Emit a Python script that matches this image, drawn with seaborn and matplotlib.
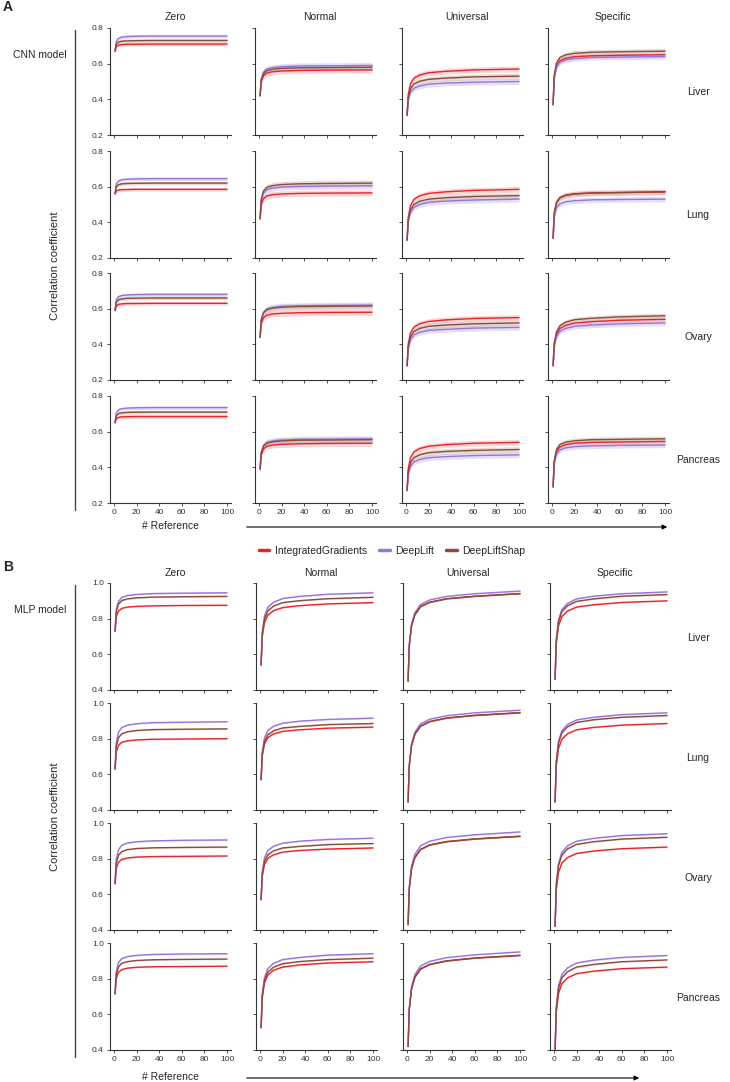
import pandas as pd
import seaborn as sns
import matplotlib.pyplot as plt
from matplotlib.lines import Line2D
from matplotlib.patches import FancyArrowPatch

# number of references sampled on the x axis
N_REF = [1, 2, 4, 7, 12, 20, 35, 60, 100]
BASELINES = ["Zero", "Normal", "Universal", "Specific"]
TISSUES = ["Liver", "Lung", "Ovary", "Pancreas"]
METHODS = ["IntegratedGradients", "DeepLift", "DeepLiftShap"]

# CNN model: one list per baseline (Zero, Normal, Universal, Specific)
CNN_LIVER_IG = [
    [0.670, 0.696, 0.704, 0.707, 0.709, 0.709, 0.710, 0.710, 0.710],
    [0.420, 0.500, 0.533, 0.548, 0.555, 0.559, 0.562, 0.564, 0.565],
    [0.310, 0.427, 0.487, 0.518, 0.536, 0.549, 0.557, 0.565, 0.570],
    [0.370, 0.524, 0.588, 0.616, 0.630, 0.639, 0.644, 0.647, 0.650],
]
CNN_LIVER_DL = [
    [0.670, 0.725, 0.742, 0.749, 0.752, 0.754, 0.755, 0.755, 0.755],
    [0.420, 0.514, 0.553, 0.570, 0.578, 0.583, 0.587, 0.588, 0.590],
    [0.310, 0.396, 0.439, 0.462, 0.475, 0.485, 0.491, 0.496, 0.500],
    [0.370, 0.519, 0.581, 0.608, 0.621, 0.629, 0.635, 0.637, 0.640],
]
CNN_LIVER_DLS = [
    [0.670, 0.709, 0.721, 0.726, 0.728, 0.729, 0.730, 0.730, 0.730],
    [0.420, 0.508, 0.545, 0.561, 0.569, 0.574, 0.577, 0.578, 0.580],
    [0.310, 0.409, 0.460, 0.486, 0.501, 0.512, 0.519, 0.526, 0.530],
    [0.370, 0.535, 0.604, 0.634, 0.649, 0.658, 0.664, 0.667, 0.670],
]
CNN_LUNG_IG = [
    [0.560, 0.576, 0.581, 0.583, 0.584, 0.585, 0.585, 0.585, 0.585],
    [0.420, 0.500, 0.533, 0.548, 0.555, 0.559, 0.562, 0.564, 0.565],
    [0.300, 0.428, 0.494, 0.528, 0.548, 0.562, 0.571, 0.579, 0.585],
    [0.310, 0.453, 0.513, 0.539, 0.552, 0.560, 0.565, 0.567, 0.570],
]
CNN_LUNG_DL = [
    [0.560, 0.615, 0.632, 0.639, 0.642, 0.644, 0.645, 0.645, 0.645],
    [0.420, 0.522, 0.564, 0.583, 0.592, 0.598, 0.601, 0.603, 0.605],
    [0.300, 0.404, 0.456, 0.484, 0.500, 0.512, 0.519, 0.525, 0.530],
    [0.310, 0.431, 0.482, 0.504, 0.515, 0.521, 0.526, 0.528, 0.530],
]
CNN_LUNG_DLS = [
    [0.560, 0.599, 0.611, 0.616, 0.618, 0.619, 0.620, 0.620, 0.620],
    [0.420, 0.530, 0.576, 0.596, 0.606, 0.612, 0.616, 0.618, 0.620],
    [0.300, 0.413, 0.470, 0.500, 0.518, 0.530, 0.538, 0.545, 0.550],
    [0.310, 0.450, 0.510, 0.537, 0.551, 0.559, 0.564, 0.567, 0.572],
]
CNN_OVARY_IG = [
    [0.590, 0.616, 0.624, 0.627, 0.629, 0.629, 0.630, 0.630, 0.630],
    [0.440, 0.517, 0.549, 0.563, 0.570, 0.574, 0.577, 0.579, 0.580],
    [0.280, 0.402, 0.464, 0.496, 0.515, 0.528, 0.537, 0.545, 0.550],
    [0.280, 0.397, 0.457, 0.488, 0.506, 0.519, 0.527, 0.535, 0.540],
]
CNN_OVARY_DL = [
    [0.590, 0.649, 0.667, 0.674, 0.677, 0.679, 0.680, 0.680, 0.680],
    [0.440, 0.539, 0.580, 0.598, 0.607, 0.613, 0.616, 0.618, 0.620],
    [0.280, 0.377, 0.426, 0.452, 0.467, 0.478, 0.484, 0.491, 0.495],
    [0.280, 0.388, 0.443, 0.472, 0.489, 0.501, 0.508, 0.515, 0.520],
]
CNN_OVARY_DLS = [
    [0.590, 0.636, 0.650, 0.655, 0.658, 0.659, 0.660, 0.660, 0.660],
    [0.440, 0.536, 0.577, 0.594, 0.603, 0.608, 0.612, 0.613, 0.615],
    [0.280, 0.388, 0.443, 0.472, 0.489, 0.501, 0.508, 0.515, 0.520],
    [0.280, 0.406, 0.470, 0.504, 0.524, 0.538, 0.546, 0.554, 0.560],
]
CNN_PANCREAS_IG = [
    [0.650, 0.673, 0.680, 0.683, 0.684, 0.685, 0.685, 0.685, 0.685],
    [0.390, 0.470, 0.503, 0.518, 0.525, 0.529, 0.532, 0.534, 0.535],
    [0.270, 0.392, 0.454, 0.486, 0.505, 0.518, 0.527, 0.535, 0.540],
    [0.290, 0.430, 0.489, 0.514, 0.527, 0.535, 0.540, 0.542, 0.545],
]
CNN_PANCREAS_DL = [
    [0.650, 0.705, 0.722, 0.729, 0.732, 0.734, 0.735, 0.735, 0.735],
    [0.390, 0.484, 0.523, 0.540, 0.548, 0.553, 0.557, 0.558, 0.560],
    [0.270, 0.360, 0.406, 0.430, 0.444, 0.454, 0.460, 0.466, 0.470],
    [0.290, 0.419, 0.473, 0.497, 0.509, 0.516, 0.520, 0.523, 0.525],
]
CNN_PANCREAS_DLS = [
    [0.650, 0.689, 0.701, 0.706, 0.708, 0.709, 0.710, 0.710, 0.710],
    [0.390, 0.481, 0.519, 0.535, 0.543, 0.548, 0.552, 0.553, 0.555],
    [0.270, 0.374, 0.426, 0.454, 0.470, 0.482, 0.489, 0.495, 0.500],
    [0.290, 0.439, 0.501, 0.528, 0.541, 0.549, 0.555, 0.557, 0.560],
]

# MLP model
MLP_LIVER_IG = [
    [0.730, 0.810, 0.843, 0.858, 0.865, 0.869, 0.872, 0.874, 0.875],
    [0.540, 0.698, 0.778, 0.820, 0.845, 0.862, 0.873, 0.883, 0.890],
    [0.450, 0.646, 0.759, 0.822, 0.867, 0.891, 0.911, 0.925, 0.940],
    [0.460, 0.658, 0.759, 0.812, 0.843, 0.865, 0.878, 0.891, 0.900],
]
MLP_LIVER_DL = [
    [0.730, 0.848, 0.898, 0.919, 0.930, 0.936, 0.941, 0.943, 0.945],
    [0.540, 0.722, 0.815, 0.864, 0.892, 0.913, 0.925, 0.937, 0.945],
    [0.450, 0.652, 0.768, 0.834, 0.879, 0.905, 0.925, 0.940, 0.955],
    [0.460, 0.681, 0.793, 0.852, 0.886, 0.911, 0.926, 0.940, 0.950],
]
MLP_LIVER_DLS = [
    [0.730, 0.837, 0.882, 0.902, 0.911, 0.917, 0.921, 0.923, 0.925],
    [0.540, 0.711, 0.798, 0.844, 0.871, 0.890, 0.901, 0.912, 0.920],
    [0.450, 0.647, 0.760, 0.823, 0.868, 0.892, 0.912, 0.926, 0.941],
    [0.460, 0.674, 0.783, 0.840, 0.873, 0.897, 0.911, 0.926, 0.935],
]
MLP_LUNG_IG = [
    [0.630, 0.724, 0.763, 0.780, 0.788, 0.793, 0.797, 0.798, 0.800],
    [0.570, 0.703, 0.771, 0.806, 0.827, 0.841, 0.850, 0.859, 0.865],
    [0.445, 0.645, 0.760, 0.825, 0.870, 0.895, 0.915, 0.930, 0.945],
    [0.445, 0.643, 0.744, 0.797, 0.828, 0.850, 0.863, 0.876, 0.885],
]
MLP_LUNG_DL = [
    [0.630, 0.776, 0.837, 0.863, 0.876, 0.884, 0.890, 0.892, 0.895],
    [0.570, 0.725, 0.805, 0.846, 0.870, 0.887, 0.898, 0.908, 0.915],
    [0.445, 0.651, 0.769, 0.836, 0.883, 0.909, 0.929, 0.945, 0.960],
    [0.445, 0.670, 0.785, 0.845, 0.880, 0.905, 0.920, 0.935, 0.945],
]
MLP_LUNG_DLS = [
    [0.630, 0.754, 0.806, 0.828, 0.839, 0.846, 0.851, 0.853, 0.855],
    [0.570, 0.712, 0.784, 0.822, 0.844, 0.860, 0.869, 0.879, 0.885],
    [0.445, 0.646, 0.761, 0.826, 0.871, 0.896, 0.916, 0.931, 0.946],
    [0.445, 0.663, 0.775, 0.833, 0.867, 0.891, 0.906, 0.920, 0.930],
]
MLP_OVARY_IG = [
    [0.660, 0.745, 0.781, 0.796, 0.804, 0.809, 0.812, 0.813, 0.815],
    [0.570, 0.701, 0.767, 0.802, 0.822, 0.837, 0.846, 0.854, 0.860],
    [0.430, 0.628, 0.742, 0.806, 0.851, 0.876, 0.895, 0.910, 0.925],
    [0.420, 0.620, 0.723, 0.776, 0.807, 0.829, 0.843, 0.856, 0.865],
]
MLP_OVARY_DL = [
    [0.660, 0.795, 0.851, 0.876, 0.888, 0.895, 0.900, 0.903, 0.905],
    [0.570, 0.725, 0.805, 0.846, 0.870, 0.887, 0.898, 0.908, 0.915],
    [0.430, 0.638, 0.758, 0.825, 0.872, 0.898, 0.919, 0.934, 0.950],
    [0.420, 0.654, 0.774, 0.836, 0.872, 0.898, 0.914, 0.930, 0.940],
]
MLP_OVARY_DLS = [
    [0.660, 0.773, 0.820, 0.840, 0.851, 0.857, 0.861, 0.863, 0.865],
    [0.570, 0.712, 0.784, 0.822, 0.844, 0.860, 0.869, 0.879, 0.885],
    [0.430, 0.629, 0.743, 0.807, 0.852, 0.877, 0.896, 0.911, 0.926],
    [0.420, 0.645, 0.760, 0.820, 0.855, 0.880, 0.895, 0.910, 0.920],
]
MLP_PANCREAS_IG = [
    [0.715, 0.800, 0.836, 0.851, 0.859, 0.864, 0.867, 0.868, 0.870],
    [0.525, 0.692, 0.777, 0.821, 0.847, 0.865, 0.877, 0.888, 0.895],
    [0.420, 0.624, 0.741, 0.808, 0.854, 0.879, 0.899, 0.915, 0.930],
    [0.400, 0.609, 0.716, 0.772, 0.805, 0.828, 0.842, 0.856, 0.865],
]
MLP_PANCREAS_DL = [
    [0.715, 0.839, 0.891, 0.913, 0.924, 0.931, 0.936, 0.938, 0.940],
    [0.525, 0.712, 0.807, 0.857, 0.886, 0.907, 0.919, 0.932, 0.940],
    [0.420, 0.632, 0.754, 0.823, 0.871, 0.897, 0.918, 0.934, 0.950],
    [0.400, 0.639, 0.760, 0.824, 0.861, 0.888, 0.904, 0.919, 0.930],
]
MLP_PANCREAS_DLS = [
    [0.715, 0.822, 0.867, 0.887, 0.896, 0.902, 0.906, 0.908, 0.910],
    [0.525, 0.701, 0.790, 0.837, 0.864, 0.884, 0.896, 0.907, 0.915],
    [0.420, 0.625, 0.742, 0.809, 0.855, 0.880, 0.900, 0.916, 0.931],
    [0.400, 0.627, 0.743, 0.804, 0.839, 0.865, 0.880, 0.895, 0.905],
]

# half-width of the shaded band (sd) per baseline
CNN_SD = [0.010, 0.017, 0.016, 0.015]
MLP_SD = [0.004, 0.004, 0.003, 0.004]

COLORS = {"IntegratedGradients": "#e8242b", "DeepLift": "#9874dc", "DeepLiftShap": "#8b4a3a"}
BAND_COLORS = {"IntegratedGradients": "#f0a0a2", "DeepLift": "#c7b6ee", "DeepLiftShap": "#c9b3a4"}

series = {
    ("CNN", "Liver"): [CNN_LIVER_IG, CNN_LIVER_DL, CNN_LIVER_DLS],
    ("CNN", "Lung"): [CNN_LUNG_IG, CNN_LUNG_DL, CNN_LUNG_DLS],
    ("CNN", "Ovary"): [CNN_OVARY_IG, CNN_OVARY_DL, CNN_OVARY_DLS],
    ("CNN", "Pancreas"): [CNN_PANCREAS_IG, CNN_PANCREAS_DL, CNN_PANCREAS_DLS],
    ("MLP", "Liver"): [MLP_LIVER_IG, MLP_LIVER_DL, MLP_LIVER_DLS],
    ("MLP", "Lung"): [MLP_LUNG_IG, MLP_LUNG_DL, MLP_LUNG_DLS],
    ("MLP", "Ovary"): [MLP_OVARY_IG, MLP_OVARY_DL, MLP_OVARY_DLS],
    ("MLP", "Pancreas"): [MLP_PANCREAS_IG, MLP_PANCREAS_DL, MLP_PANCREAS_DLS],
}
sds = {"CNN": CNN_SD, "MLP": MLP_SD}

rows = []
for (model, tissue), per_method in series.items():
    for method, per_base in zip(METHODS, per_method):
        for b, vals in enumerate(per_base):
            for x, y in zip(N_REF, vals):
                rows.append({"model": model, "tissue": tissue, "baseline": BASELINES[b],
                             "method": method, "n_ref": x, "corr": y, "sd": sds[model][b]})
df = pd.DataFrame(rows)

W, H = 730, 1082
sns.set_style("ticks")
plt.rcParams["font.family"] = ["Liberation Sans", "DejaVu Sans"]
fig = plt.figure(figsize=(W / 100, H / 100), dpi=100)


def fx(x):
    return x / W


def fy(y):
    return 1 - y / H


def draw_panel(model, row_tops, col_lefts, ylim, yticks, title_y, label_y, row_label, label_offset):
    sub = df[df["model"] == model]
    for r, tissue in enumerate(TISSUES):
        for c, base in enumerate(BASELINES):
            top = row_tops[r]
            ax = fig.add_axes([fx(col_lefts[c]), fy(top + 107), fx(121), 107 / H])
            d = sub[(sub["tissue"] == tissue) & (sub["baseline"] == base)]
            for method in METHODS:
                m = d[d["method"] == method]
                ax.fill_between(m["n_ref"], m["corr"] - m["sd"], m["corr"] + m["sd"],
                                color=BAND_COLORS[method], alpha=0.45, lw=0)
            sns.lineplot(data=d, x="n_ref", y="corr", hue="method", hue_order=METHODS,
                         palette=COLORS, lw=1.0, legend=False, ax=ax)
            ax.set_xlim(-3.5, 103.5)
            ax.set_ylim(*ylim)
            ax.set_xticks([0, 20, 40, 60, 80, 100])
            ax.set_yticks(yticks)
            ax.set_xlabel("")
            ax.set_ylabel("")
            ax.tick_params(labelsize=6, length=2.5, width=0.6, pad=2, colors="#333333")
            for s in ["left", "bottom"]:
                ax.spines[s].set_linewidth(0.8)
                ax.spines[s].set_color("#333333")
            sns.despine(ax=ax)
            if c > 0:
                ax.set_yticklabels([])
            if r < 3:
                ax.set_xticklabels([])
            if r == 0:
                fig.text(fx(col_lefts[c] + 65), fy(title_y), base, fontsize=7.5,
                         ha="center", va="center")
            if c == 3:
                fig.text(fx(698), fy(top + 53 + label_offset), tissue, fontsize=7.5,
                         ha="center", va="center")
    # model label, y label and side bracket
    fig.text(fx(40), fy(row_tops[0] + 27), row_label, fontsize=7.5, ha="center", va="center")
    mid = (row_tops[0] + row_tops[3] + 107) / 2
    fig.text(fx(55), fy(mid), "Correlation coefficient", fontsize=8, rotation=90,
             ha="center", va="center")
    fig.add_artist(Line2D([fx(75), fx(75)], [fy(row_tops[0] + 2), fy(row_tops[3] + 114)],
                          transform=fig.transFigure, color="#444444", lw=1.0))
    fig.text(fx(170), fy(label_y), "# Reference", fontsize=7.5, ha="center", va="center")


draw_panel("CNN", [28, 151, 273, 396], [110, 255, 402, 548], (0.2, 0.8),
           [0.2, 0.4, 0.6, 0.8], 17, 526, "CNN model", 11)
draw_panel("MLP", [583, 703, 823, 943], [110, 256, 403, 550], (0.4, 1.0),
           [0.4, 0.6, 0.8, 1.0], 573, 1077, "MLP model", 2)

# panel letters
fig.text(fx(3), fy(7), "A", fontsize=10, fontweight="bold", ha="left", va="center")
fig.text(fx(3), fy(567), "B", fontsize=10, fontweight="bold", ha="left", va="center")

# direction arrows under the grids
for y, x_end in [(527, 670), (1078, 642)]:
    fig.add_artist(FancyArrowPatch((fx(244), fy(y)), (fx(x_end), fy(y)), transform=fig.transFigure,
                                   arrowstyle="-|>", mutation_scale=7, lw=0.8, color="black"))

handles = [Line2D([0], [0], color=COLORS[m], lw=2.5) for m in METHODS]
fig.legend(handles, METHODS, loc="center", bbox_to_anchor=(fx(392), fy(551)), ncol=3,
           frameon=False, fontsize=7.5, handlelength=1.0, handletextpad=0.5, columnspacing=1.2)

fig.savefig("out.png", dpi=100)
